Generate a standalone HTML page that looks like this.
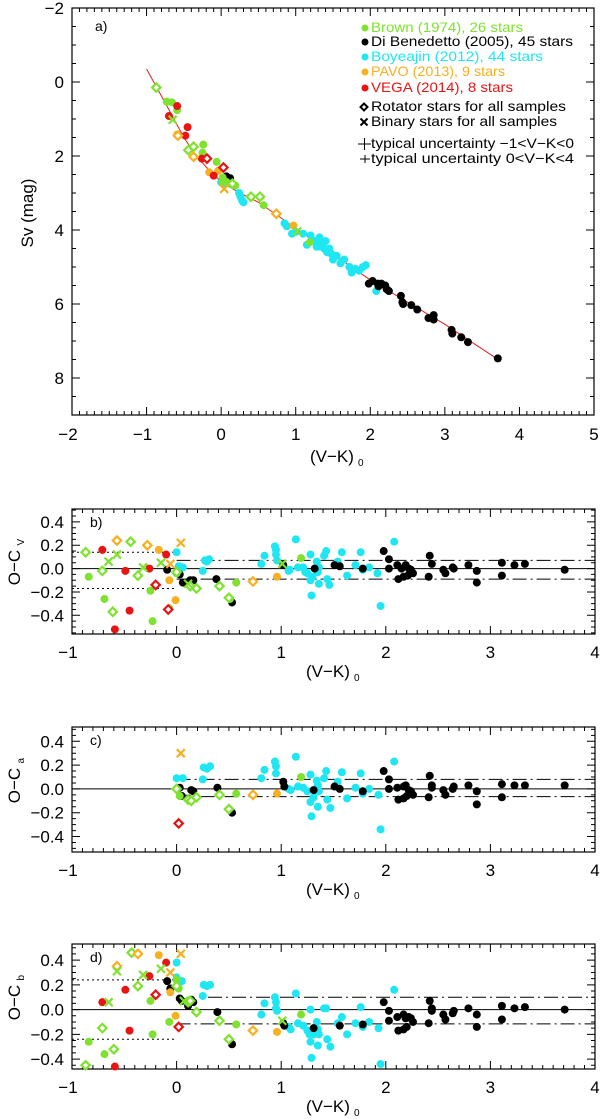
<!DOCTYPE html>
<html><head><meta charset="utf-8"><style>
html,body{margin:0;padding:0;background:#fff;}
svg{display:block;font-family:"Liberation Sans",sans-serif;}
</style></head><body>
<svg id="chart" width="600" height="1119" viewBox="0 0 600 1119" xmlns="http://www.w3.org/2000/svg"></svg>
<script>
// ---------- Panel a data ----------
const aGreenDot=[[-0.73,0.53],[-0.66,0.55],[-0.59,0.76],[-0.24,1.69],[-0.25,1.91],[-0.06,2.16],[0.02,2.58],[0.07,2.7],[0.12,2.75],[0.19,2.8],[0.02,2.7],[0.57,3.33],[1.19,4.33]];
const aGreenDia=[[-0.87,0.15],[-0.44,1.84],[-0.37,1.75],[0.15,2.75],[0.4,3.1],[0.52,3.1]];
const aGreenX=[[-0.65,1.02],[1.02,4.04]];
const aRedDot=[[-0.59,0.65],[-0.7,0.92],[-0.45,1.22],[-0.48,1.45],[-0.26,2.07],[-0.1,2.53]];
const aRedDia=[[-0.19,2.07],[0.03,2.31]];
const aOrangeDot=[[-0.16,2.44],[-0.04,2.4],[0.97,3.88],[-0.59,1.42]];
const aOrangeDia=[[-0.58,1.45],[-0.37,2.02],[0.74,3.56]];
const aOrangeX=[[0.04,2.89]];
const aCyanDot=[[0.0,2.71],[0.03,2.75],[0.24,3.0],[0.26,3.1],[0.28,3.2],[0.3,3.25],[0.85,3.82],[0.88,3.9],[0.95,4.1],[1.0,4.05],[1.1,4.1],[1.15,4.4],[1.2,4.15],[1.25,4.3],[1.28,4.45],[1.32,4.2],[1.35,4.35],[1.38,4.5],[1.4,4.3],[1.45,4.5],[1.48,4.65],[1.5,4.8],[1.55,4.7],[1.6,4.9],[1.65,4.8],[1.72,5.0],[1.75,5.15],[1.8,5.05],[1.85,5.1],[1.9,5.0],[1.94,4.95],[2.08,5.65],[1.3,4.45],[1.42,4.6]];
const aBlackDot=[[1.98,5.45],[2.03,5.38],[2.1,5.45],[2.15,5.45],[2.2,5.5],[2.25,5.65],[2.22,5.6],[2.11,5.52],[2.41,5.78],[2.43,5.95],[2.44,6.0],[2.55,6.03],[2.63,6.15],[2.78,6.38],[2.85,6.3],[2.85,6.42],[3.09,6.7],[3.1,6.8],[3.22,6.9],[3.31,7.03],[3.71,7.47],[0.07,2.55],[0.12,2.6]];
const fitX=[-1,-0.85,-0.7,-0.5,-0.35,-0.2,0,0.25,0.5,1,1.5,2,2.5,3,3.75];
const fitY=[-0.35,0.2,0.75,1.5,1.95,2.3,2.7,3.0,3.25,3.95,4.65,5.35,5.95,6.55,7.55];
// ---------- Panel b data ----------
const bGreenDot=[[-0.84,-0.07],[-0.69,-0.26],[-0.25,-0.19],[-0.23,-0.45],[-0.07,-0.34],[0.0,-0.04],[0.51,-0.26],[0.57,-0.12],[1.19,0.09]];
const bGreenDia=[[-0.87,0.14],[-0.71,-0.02],[-0.61,-0.37],[-0.44,0.23],[-0.37,-0.06],[0,-0.03],[0.13,-0.15],[0.19,-0.17],[0.41,-0.15],[0.50,-0.25]];
const bGreenX=[[-0.65,0.06],[-0.57,0.12],[-0.32,0.01],[-0.15,0.05],[0.11,-0.13],[1.01,0.04]];
const bRedDot=[[-0.71,0.16],[-0.49,-0.02],[-0.45,-0.36],[-0.59,-0.52],[-0.26,0.0],[-0.10,0.12]];
const bRedDia=[[-0.20,-0.14],[-0.08,-0.35]];
const bOrangeDot=[[-0.17,0.16],[-0.07,-0.10],[-0.01,-0.27],[0.96,-0.07]];
const bOrangeDia=[[-0.57,0.24],[-0.28,0.20],[0.73,-0.11]];
const bOrangeX=[[0.04,0.22],[-0.06,0.04]];
const bCyanDot=[[0.0,0.14],[0.02,0.02],[0.06,0.01],[0.25,-0.02],[0.27,0.07],[0.29,0.06],[0.31,0.08],[0.81,0.04],[0.84,0.11],[0.94,0.19],[0.95,0.16],[0.95,0.12],[0.96,0.07],[1.07,-0.02],[1.08,-0.01],[1.14,0.25],[1.16,0.01],[1.21,0.01],[1.23,-0.03],[1.25,-0.04],[1.28,0.12],[1.28,-0.10],[1.29,-0.23],[1.30,-0.07],[1.34,0.06],[1.36,0.01],[1.35,-0.03],[1.36,-0.13],[1.41,0.11],[1.43,0.15],[1.44,-0.09],[1.46,-0.14],[1.54,0.06],[1.58,0.14],[1.63,-0.06],[1.71,0.03],[1.76,0.14],[1.78,-0.01],[1.84,0.01],[1.92,-0.04],[1.95,-0.32],[2.08,0.23]];
const bBlackDot=[[-0.09,-0.01],[0.03,-0.05],[0.06,-0.12],[0.09,-0.12],[0.13,-0.10],[0.16,-0.10],[0.38,-0.09],[0.53,-0.29],[1.02,0.03],[1.32,0.0],[1.51,0.03],[1.56,0.02],[1.78,0.0],[1.98,0.15],[2.03,0.08],[2.03,0.0],[2.11,0.03],[2.15,0.0],[2.19,0.03],[2.22,0.0],[2.24,-0.01],[2.26,-0.04],[2.12,-0.09],[2.17,-0.07],[2.21,-0.06],[2.42,0.11],[2.44,0.04],[2.41,-0.07],[2.55,-0.01],[2.57,-0.04],[2.65,0.0],[2.64,0.01],[2.79,0.03],[2.87,-0.02],[2.87,-0.12],[3.11,0.05],[3.11,-0.06],[3.23,0.03],[3.33,0.04],[3.71,-0.01]];
// ---------- Panel c data ----------
const cGreenDot=[[0.03,-0.06],[0.57,-0.04],[1.19,0.10]];
const cGreenDia=[[0,0],[0.11,-0.09],[0.14,-0.10],[0.19,-0.07],[0.41,-0.05],[0.50,-0.17]];
const cGreenX=[];
const cRedDot=[];
const cRedDia=[[0.02,-0.29]];
const cOrangeDot=[[0.96,-0.04]];
const cOrangeDia=[[0.73,-0.05]];
const cOrangeX=[[0.04,0.30]];
const cCyanDot=[[0,0.09],[0.06,0.09],[0.25,0.08],[0.26,0.18],[0.29,0.17],[0.32,0.19],[0.81,0.09],[0.84,0.16],[0.94,0.23],[0.95,0.19],[0.95,0.13],[1.07,0],[1.09,-0.01],[1.14,0.27],[1.16,0.02],[1.21,0.01],[1.25,-0.02],[1.28,0.12],[1.28,-0.11],[1.29,-0.23],[1.31,-0.07],[1.34,0.07],[1.35,0.03],[1.36,-0.02],[1.35,-0.15],[1.41,0.09],[1.43,0.15],[1.44,-0.09],[1.47,-0.16],[1.54,0.06],[1.58,0.14],[1.63,-0.08],[1.71,0.01],[1.76,0.13],[1.78,-0.04],[1.84,0],[1.93,-0.05],[1.95,-0.34],[2.08,0.23]];
const cBlackDot=[[0.03,0.01],[0.05,-0.06],[0.11,-0.08],[0.14,-0.01],[0.16,-0.02],[0.39,0.01],[0.53,-0.20],[1.02,0.06],[1.03,0.02],[1.31,-0.01],[1.51,0.02],[1.56,0],[1.78,-0.02],[1.98,0.15],[2.03,0.08],[2.03,0],[2.11,0.01],[2.17,0.02],[2.19,0.03],[2.22,-0.01],[2.24,-0.02],[2.26,-0.05],[2.12,-0.09],[2.17,-0.08],[2.20,-0.06],[2.42,0.11],[2.44,0.03],[2.44,0.01],[2.41,-0.07],[2.55,-0.01],[2.57,-0.05],[2.65,0.02],[2.64,0],[2.79,0.03],[2.87,-0.02],[2.87,-0.13],[3.11,0.04],[3.11,-0.07],[3.23,0.03],[3.33,0.03],[3.71,0.03]];
// ---------- Panel d data ----------
const dGreenDot=[[-0.84,-0.26],[-0.69,-0.36],[-0.25,0.07],[-0.23,-0.20],[-0.07,-0.10],[0,0.24],[0.02,0.17],[0.57,-0.12],[1.19,-0.04]];
const dGreenDia=[[-0.87,-0.45],[-0.71,-0.15],[-0.60,-0.32],[-0.43,0.46],[-0.37,0.19],[0,0.19],[0.11,0.06],[0.13,0.07],[0.19,-0.02],[0.41,-0.09],[0.50,-0.24]];
const dGreenX=[[-0.65,0.06],[-0.57,0.31],[-0.32,0.28],[-0.15,0.33],[0.07,0.07],[1.01,-0.09]];
const dRedDot=[[-0.71,0.06],[-0.49,0.16],[-0.45,-0.17],[-0.59,-0.46],[-0.26,0.27],[-0.10,0.38]];
const dRedDia=[[-0.20,0.12],[0.02,-0.14]];
const dOrangeDot=[[-0.17,0.44],[-0.06,0.14],[-0.01,-0.05],[0.96,-0.18]];
const dOrangeDia=[[-0.57,0.35],[-0.37,0.45],[0.73,-0.17]];
const dOrangeX=[[0.04,0.45],[-0.06,0.30]];
const dCyanDot=[[0,0.38],[0,0.26],[0.05,0.23],[0.02,0.17],[0.25,0.11],[0.26,0.20],[0.29,0.19],[0.32,0.20],[0.81,-0.04],[0.84,0.05],[0.94,0.10],[0.95,0.06],[0.95,0.01],[0.96,-0.01],[1.07,-0.14],[1.09,-0.16],[1.14,0.13],[1.16,-0.11],[1.21,-0.13],[1.25,-0.17],[1.27,-0.20],[1.28,0.0],[1.28,-0.26],[1.29,-0.39],[1.31,-0.20],[1.34,-0.10],[1.35,-0.16],[1.36,-0.20],[1.35,-0.29],[1.41,0.01],[1.43,0.01],[1.44,-0.24],[1.47,-0.30],[1.54,-0.11],[1.58,-0.06],[1.63,-0.20],[1.71,-0.11],[1.76,0.02],[1.78,-0.14],[1.84,-0.10],[1.93,-0.15],[1.95,-0.44],[2.08,0.16]];
const dBlackDot=[[-0.09,0.23],[-0.06,0.17],[0.03,0.09],[0.05,0.07],[0.11,0.03],[0.14,0.08],[0.16,0.06],[0.39,-0.02],[0.53,-0.28],[1.02,-0.11],[1.03,-0.13],[1.31,-0.15],[1.56,-0.13],[1.78,-0.12],[1.98,0.06],[2.03,-0.01],[2.03,-0.09],[2.11,-0.06],[2.17,-0.04],[2.19,-0.07],[2.22,-0.06],[2.24,-0.07],[2.26,-0.10],[2.12,-0.17],[2.17,-0.16],[2.20,-0.14],[2.42,0.07],[2.44,0.01],[2.44,-0.01],[2.41,-0.11],[2.55,-0.04],[2.57,-0.08],[2.65,-0.01],[2.64,-0.03],[2.79,0.01],[2.87,-0.04],[2.87,-0.14],[3.11,0.03],[3.11,-0.08],[3.23,0.01],[3.33,0.02],[3.71,0.0]];
// reference lines [y, x0, x1]
const bDashDot=[[0.07,0,4],[-0.09,0,4]];
const bDotted=[[0.14,-1,0],[-0.17,-1,0]];
const cDashDot=[[0.08,0,4],[-0.065,0,4]];
const cDotted=[];
const dDashDot=[[0.10,0.3,4],[-0.115,0,4]];
const dDotted=[[0.24,-1,0],[-0.24,-1,0]];
const aXTicks=["\u22122","\u22121","0","1","2","3","4","5"];
const aYTicks=["\u22122","0","2","4","6","8"];
const rXTicks=["\u22121","0","1","2","3","4"];
const rYTicks=["\u22120.4","\u22120.2","0.0","0.2","0.4"];

const C={green:"#7ee22e",black:"#000",cyan:"#1ee6f2",orange:"#f6b020",red:"#e81414"};
const NS="http://www.w3.org/2000/svg";
const svg=document.getElementById('chart');
function mk(tag,attrs,parent){const e=document.createElementNS(NS,tag);for(const k in attrs)e.setAttribute(k,attrs[k]);(parent||svg).appendChild(e);return e;}

function panel(name,L,R,T,B,x0,x1,y0,y1,invert){
  const g=mk('g',{});
  
  
  const sx=v=>L+(v-x0)/(x1-x0)*(R-L);
  const sy=invert?(v=>T+(v-y0)/(y1-y0)*(B-T)):(v=>B-(v-y0)/(y1-y0)*(B-T));
  return {g,sx,sy,L,R,T,B};
}
function frame(p,xMaj,xMin,yMaj,yMin,x0,x1,y0,y1){
  const {g,sx,sy,L,R,T,B}=p;
  const fr=mk('rect',{x:L,y:T,width:R-L,height:B-T,fill:'none',stroke:'#000','stroke-width':1.2},g);
  
  
  let d='';
  const eps=1e-9;
  for(let v=x0;v<=x1+eps;v+=xMin){const isM=Math.abs(v/xMaj-Math.round(v/xMaj))<1e-6;const len=isM?8:4;const X=sx(v);d+=`M${X} ${B}V${B-len}M${X} ${T}V${T+len}`;}
  const lo=Math.min(y0,y1),hi=Math.max(y0,y1);
  const st=Math.ceil(lo/yMin-1e-6)*yMin;
  for(let v=st;v<=hi+eps;v+=yMin){const isM=Math.abs(v/yMaj-Math.round(v/yMaj))<1e-6;const len=isM?8:4;const Y=sy(v);d+=`M${L} ${Y}H${L+len}M${R} ${Y}H${R-len}`;}
  const t=mk('path',{d,stroke:'#000','stroke-width':1,fill:'none'},g);
  
  
}
function txt(s,x,y,attrs,parent,name){const t=mk('text',Object.assign({x,y,'font-size':17,fill:'#000'},attrs),parent);t.textContent=s;return t;}
function dots(p,arr,col,name){for(const [x,y] of arr){const c=mk('circle',{cx:p.sx(x),cy:p.sy(y),r:4,fill:col},p.g);}}
function dias(p,arr,col,name){for(const [x,y] of arr){const X=p.sx(x),Y=p.sy(y),s=4.2;const e=mk('path',{d:`M${X} ${Y-s}L${X+s} ${Y}L${X} ${Y+s}L${X-s} ${Y}Z`,fill:'#fff',stroke:col,'stroke-width':2.2},p.g);}}
function xs(p,arr,col,name){for(const [x,y] of arr){const X=p.sx(x),Y=p.sy(y),s=4;const e=mk('path',{d:`M${X-s} ${Y-s}L${X+s} ${Y+s}M${X+s} ${Y-s}L${X-s} ${Y+s}`,stroke:col,'stroke-width':2.2},p.g);}}
function series(p,S){
  dots(p,S.cd,C.cyan,'boyajian-point');dots(p,S.bd,C.black,'di-benedetto-point');
  dots(p,S.gd,C.green,'brown-point');dots(p,S.od,C.orange,'pavo-point');dots(p,S.rd,C.red,'vega-point');
  dias(p,S.gm,C.green,'brown-rotator');dias(p,S.om,C.orange,'pavo-rotator');dias(p,S.rm,C.red,'vega-rotator');
  xs(p,S.gx,C.green,'brown-binary');xs(p,S.ox,C.orange,'pavo-binary');
}

// ---- Panel a ----
const pa=panel('panel-a',72,594,8,415,-2,5,-2,9,true);
frame(pa,1,0.1,2,0.5,-2,5,-2,9);
aXTicks.forEach((s,i)=>txt(s,pa.sx(-2+i)+(i===0||i===1?-4:0),440,{'text-anchor':'middle'},pa.g,'x-tick-label'));
aYTicks.forEach((s,i)=>txt(s,64,pa.sy(-2+2*i)+6,{'text-anchor':'end'},pa.g,'y-tick-label'));
txt('(V\u2212K)',310,462,{'font-size':17},pa.g,'x-axis-title');
txt('0',358,466,{'font-size':10},pa.g,'x-axis-title-subscript');
txt('Sv (mag)',0,0,{'text-anchor':'middle',transform:'translate(33,213) rotate(-90)','font-size':17},pa.g,'y-axis-title');
txt('a)',95,31,{'font-size':14},pa.g,'panel-label');
{let d='';fitX.forEach((x,i)=>{d+=(i?'L':'M')+pa.sx(x)+' '+pa.sy(fitY[i]);});
const f=mk('path',{d,fill:'none',stroke:'#e02020','stroke-width':1},pa.g);}
series(pa,{cd:aCyanDot,bd:aBlackDot,gd:aGreenDot,od:aOrangeDot,rd:aRedDot,gm:aGreenDia,om:aOrangeDia,rm:aRedDia,gx:aGreenX,ox:aOrangeX});
// legend
const lg=mk('g',{});


const leg=[['Brown (1974), 26 stars',C.green,32,152],['Di Benedetto (2005), 45 stars',C.black,46,202],['Boyeajin (2012), 44 stars',C.cyan,61,172],['PAVO (2013), 9 stars',C.orange,76,134],['VEGA (2014), 8 stars',C.red,92,142]];
leg.forEach(([s,c,y,w])=>{const m=mk('circle',{cx:365,cy:y-4,r:3.5,fill:c},lg);txt(s,371,y,{'font-size':14,fill:c,textLength:w,lengthAdjust:'spacingAndGlyphs'},lg,'legend-entry');});
{const X=364,Y=107,s=3.5;const m=mk('path',{d:`M${X} ${Y-s}L${X+s} ${Y}L${X} ${Y+s}L${X-s} ${Y}Z`,fill:'#fff',stroke:'#000','stroke-width':2},lg);}
txt('Rotator stars for all samples',371,111,{'font-size':14,textLength:195,lengthAdjust:'spacingAndGlyphs'},lg,'legend-entry');
{const X=364,Y=122,s=3.5;const m=mk('path',{d:`M${X-s} ${Y-s}L${X+s} ${Y+s}M${X+s} ${Y-s}L${X-s} ${Y+s}`,stroke:'#000','stroke-width':2},lg);}
txt('Binary stars for all samples',371,126,{'font-size':14,textLength:186,lengthAdjust:'spacingAndGlyphs'},lg,'legend-entry');
{const m=mk('path',{d:'M358 144H371M364.5 138V150M360 159H370M365 155V163',stroke:'#000','stroke-width':1},lg);}
txt('typical uncertainty  \u22121<V\u2212K<0',371,148,{'font-size':14,textLength:203,lengthAdjust:'spacingAndGlyphs'},lg,'legend-entry');
txt('typical uncertainty     0<V\u2212K<4',371,163,{'font-size':14,textLength:203,lengthAdjust:'spacingAndGlyphs'},lg,'legend-entry');

// ---- Residual panels ----
function resid(name,T,y0,y1,label,sub,dashdot,dotted,S){
  const B=T+125;
  const p=panel(name,72,595,T,B,-1,4,y0,y1,false);
  frame(p,1,0.1,0.2,0.05,-1,4,y0,y1);
  rXTicks.forEach((s,i)=>txt(s,p.sx(-1+i)+(i===0?-4:0),B+24,{'text-anchor':'middle'},p.g,'x-tick-label'));
  rYTicks.forEach((s,i)=>txt(s,64,p.sy(-0.4+0.2*i)+6,{'text-anchor':'end'},p.g,'y-tick-label'));
  txt('(V\u2212K)',306,B+43,{'font-size':17},p.g,'x-axis-title');
  txt('0',354,B+47,{'font-size':10},p.g,'x-axis-title-subscript');
  txt('O\u2212C',0,0,{'text-anchor':'middle',transform:`translate(20,${(T+B)/2-4}) rotate(-90)`,'font-size':17},p.g,'y-axis-title');
  txt(sub,0,0,{'font-size':10,transform:`translate(24,${(T+B)/2-26}) rotate(-90)`},p.g,'y-axis-title-subscript');
  txt(label,90,T+18,{'font-size':14},p.g,'panel-label');
  const z=mk('line',{x1:p.L,x2:p.R,y1:p.sy(0),y2:p.sy(0),stroke:'#000','stroke-width':1},p.g);
  
  dashdot.forEach(([y,a,b])=>{const l=mk('line',{x1:p.sx(a),x2:p.sx(b),y1:p.sy(y),y2:p.sy(y),stroke:'#000','stroke-width':1,'stroke-dasharray':'14 4 2 4'},p.g);});
  dotted.forEach(([y,a,b])=>{const l=mk('line',{x1:p.sx(a),x2:p.sx(b),y1:p.sy(y),y2:p.sy(y),stroke:'#000','stroke-width':1,'stroke-dasharray':'2 3'},p.g);});
  series(p,S);
}
resid('panel-b',509,-0.56,0.51,'b)','V',bDashDot,bDotted,{cd:bCyanDot,bd:bBlackDot,gd:bGreenDot,od:bOrangeDot,rd:bRedDot,gm:bGreenDia,om:bOrangeDia,rm:bRedDia,gx:bGreenX,ox:bOrangeX});
resid('panel-c',727,-0.53,0.52,'c)','a',cDashDot,cDotted,{cd:cCyanDot,bd:cBlackDot,gd:cGreenDot,od:cOrangeDot,rd:cRedDot,gm:cGreenDia,om:cOrangeDia,rm:cRedDia,gx:cGreenX,ox:cOrangeX});
resid('panel-d',944,-0.48,0.53,'d)','b',dDashDot,dDotted,{cd:dCyanDot,bd:dBlackDot,gd:dGreenDot,od:dOrangeDot,rd:dRedDot,gm:dGreenDia,om:dOrangeDia,rm:dRedDia,gx:dGreenX,ox:dOrangeX});
</script>
</body></html>
